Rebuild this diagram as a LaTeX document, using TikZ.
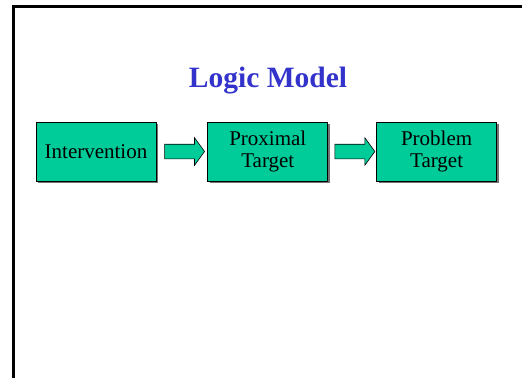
\documentclass[tikz,border=0pt]{standalone}
\usepackage{fontspec}
\setmainfont{Liberation Serif}
\usetikzlibrary{positioning,shapes.arrows,shadows,calc}

\definecolor{boxgreen}{RGB}{0,204,153}
\definecolor{titleblue}{RGB}{51,51,204}

\tikzset{
  stagebox/.style={draw=black, line width=0.8pt, fill=boxgreen,
    minimum width=120pt, minimum height=59pt, inner sep=2pt,
    align=center, font=\fontsize{21}{22}\selectfont,
    drop shadow={shadow xshift=2pt, shadow yshift=-2pt, fill=black!55, opacity=1}},
  blockarrow/.style={draw=black, line width=0.6pt, fill=boxgreen,
    single arrow, inner xsep=0pt, inner ysep=7pt, minimum height=40pt,
    single arrow head extend=6.5pt, single arrow tip angle=108},
  frameline/.style={line width=3pt}
}

\begin{document}
\begin{tikzpicture}[x=1pt, y=-1pt]

  \useasboundingbox (0,0) rectangle (522,378);

  % slide frame
  \draw[frameline] (13,378) -- (13,6) -- (522,6);

  % title
  \node[anchor=base, text=titleblue, font=\fontsize{29.5}{34}\selectfont\bfseries]
    (title) at (268,87) {Logic Model};

  % the three stages
  \node[stagebox] (intervention) at (96,151.5) {Intervention};
  \node[stagebox, right=51pt of intervention] (proximal) {Proximal\\Target};
  \node[stagebox, right=48pt of proximal] (problem) {Problem\\Target};

  % block arrows between the stages
  \node[blockarrow] (arrow-one) at ($(intervention.east)!0.5!(proximal.west)$) {};
  \node[blockarrow] (arrow-two) at ($(proximal.east)!0.5!(problem.west)$) {};

\end{tikzpicture}
\end{document}
